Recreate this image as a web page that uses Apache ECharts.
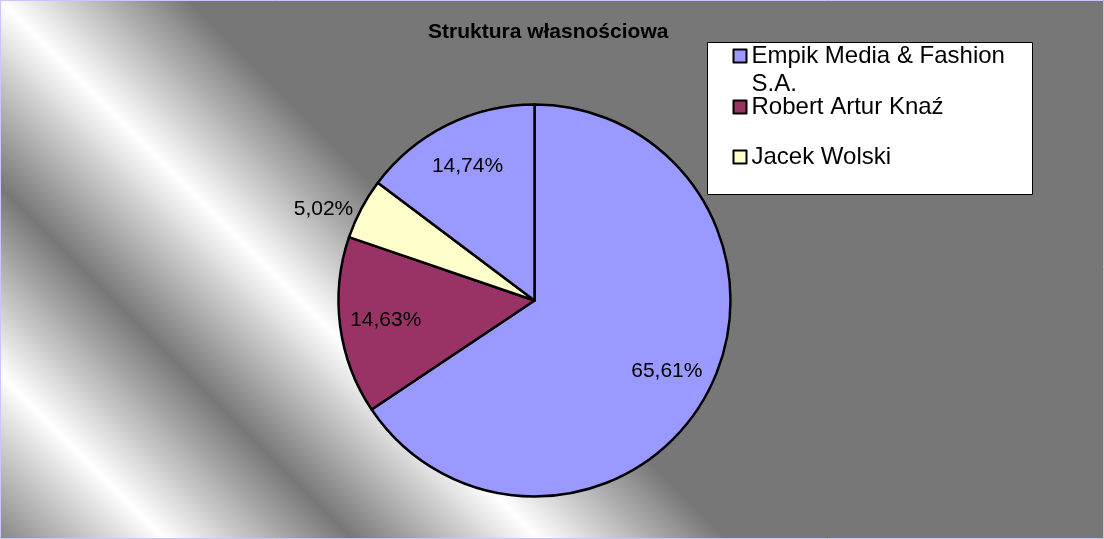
<!DOCTYPE html>
<html lang="pl">
<head>
<meta charset="UTF-8">
<title>Struktura własnościowa</title>
<script src="https://cdn.jsdelivr.net/npm/echarts@6/dist/echarts.min.js"></script>
<style>
  html, body { margin: 0; padding: 0; }
  #main { width: 1104px; height: 539px; }
</style>
</head>
<body>
<div id="main"></div>
<script>
// owners and their share (%)
const owners = ['Empik Media & Fashion S.A.', 'Robert Artur Knaź', 'Jacek Wolski', 'Pozostali'];
const shares = [65.61, 14.63, 5.02, 14.74];
const sliceColors = ['#9999FF', '#993366', '#FFFFCC', '#9999FF'];
const legendOwners = ['Empik Media & Fashion S.A.', 'Robert Artur Knaź', 'Jacek Wolski'];

const FONT = 'Liberation Sans';

function pct(v) {
  return v.toFixed(2).replace('.', ',') + '%';
}

// diagonal stripes, stops measured along x - y
function stripe(v, color) {
  return { offset: (v + 600) / 1200, color: color };
}
let bg = new echarts.graphic.LinearGradient(-300, 300, 300, -300, [
  stripe(-560, '#777777'),
  stripe(-373, '#ffffff'),
  stripe(-187, '#777777'),
  stripe(0, '#ffffff'),
  stripe(188, '#777777')
], true);

function legendItem(i, top) {
  return {
    data: [legendOwners[i]],
    left: 732.5,
    top: top,
    padding: 0,
    itemGap: 0,
    itemWidth: 13,
    itemHeight: 13,
    icon: 'rect',
    selectedMode: false,
    z: 10,
    itemStyle: { borderColor: '#000', borderWidth: 2 },
    formatter: function (n) {
      // first owner wraps; empty first line keeps the marker on the first text line
      return n === owners[0] ? '\nEmpik Media & Fashion\nS.A.' : n;
    },
    textStyle: {
      fontFamily: FONT,
      fontSize: 24,
      color: '#000',
      lineHeight: 28
    }
  };
}

let chart = echarts.init(document.getElementById('main'));

let option = {
  animation: false,
  title: {
    text: 'Struktura własnościowa',
    left: 428,
    top: 22,
    padding: 0,
    textStyle: { fontFamily: FONT, fontSize: 21, fontWeight: 'bold', color: '#000' }
  },
  legend: [
    legendItem(0, 14),
    legendItem(1, 93),
    legendItem(2, 143)
  ],
  graphic: [
    {
      type: 'rect', z: -10, silent: true,
      shape: { x: 0, y: 0, width: 1104, height: 539 },
      style: { fill: bg }
    },
    {
      type: 'rect', z: 1, silent: true,
      shape: { x: 707.5, y: 42.5, width: 325, height: 152 },
      style: { fill: '#fff', stroke: '#000', lineWidth: 1 }
    },
    {
      type: 'rect', z: 100, silent: true,
      shape: { x: 0.5, y: 0.5, width: 1103, height: 538 },
      style: { fill: null, stroke: '#c8c8f8', lineWidth: 1 }
    }
  ],
  series: [
    {
      type: 'pie',
      center: [534.5, 300.5],
      radius: 196,
      startAngle: 90,
      clockwise: true,
      silent: true,
      label: { show: false },
      labelLine: { show: false },
      emphasis: { disabled: true },
      itemStyle: { borderColor: '#000', borderWidth: 2.5 },
      data: shares.map(function (v, i) {
        return { name: owners[i], value: v, itemStyle: { color: sliceColors[i] } };
      })
    },
    {
      // transparent ring, only carries the percentage labels
      type: 'pie',
      center: [534.5, 300.5],
      radius: [98, 196],
      startAngle: 90,
      clockwise: true,
      silent: true,
      z: 3,
      emphasis: { disabled: true },
      itemStyle: { color: 'rgba(0,0,0,0)', borderWidth: 0 },
      label: {
        position: 'inside',
        formatter: function (p) { return pct(p.value); },
        fontFamily: FONT,
        fontSize: 21,
        color: '#000',
        textBorderWidth: 0
      },
      labelLine: { show: false, length: 0, length2: 0 },
      data: shares.map(function (v, i) {
        let item = { name: owners[i], value: v };
        if (i === 2) {
          item.label = { position: 'outside', distanceToLabelLine: 8 };
        }
        return item;
      })
    }
  ]
};

chart.setOption(option);
</script>
</body>
</html>
